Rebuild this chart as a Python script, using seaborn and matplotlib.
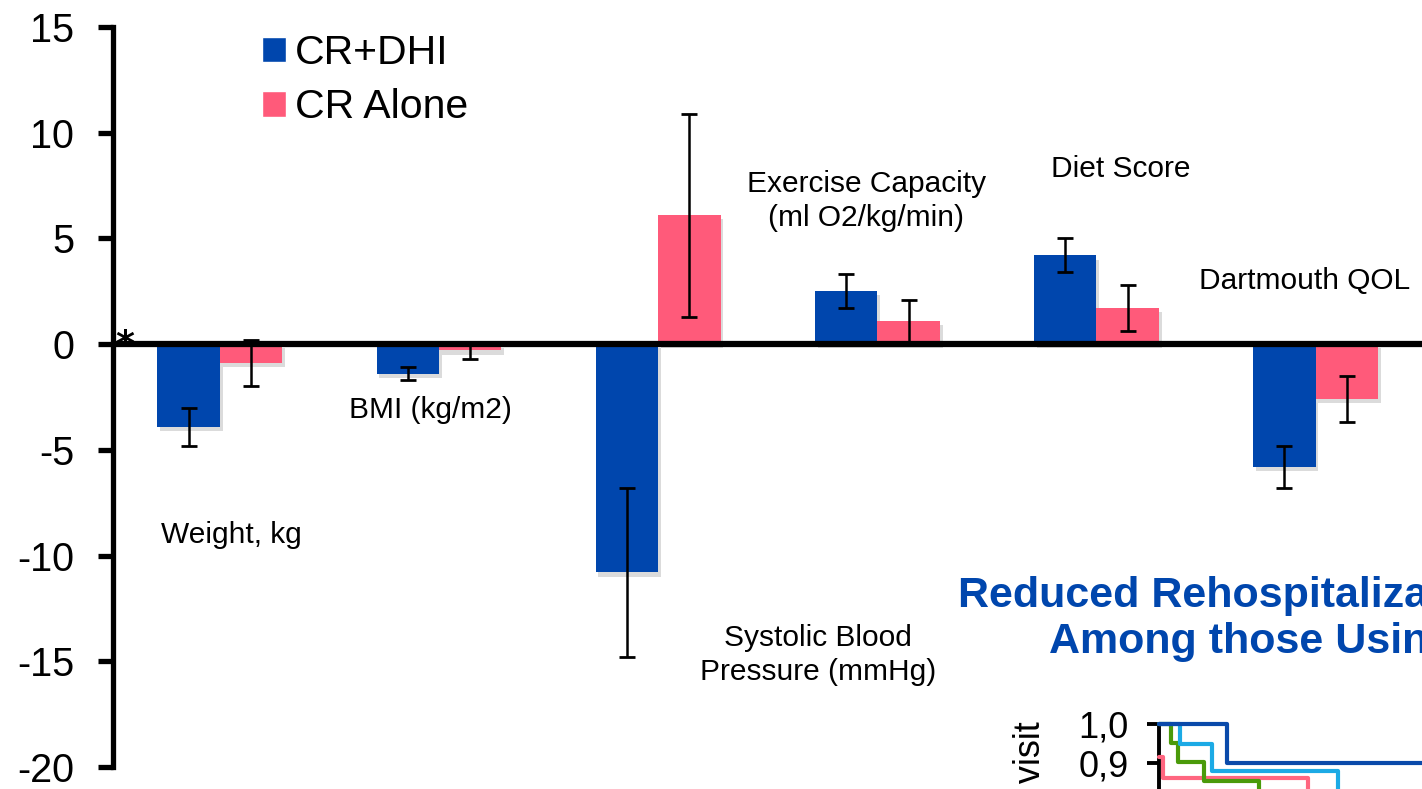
import numpy as np
import pandas as pd
import matplotlib
matplotlib.use("Agg")
import matplotlib.pyplot as plt
import matplotlib.patheffects as pe
import seaborn as sns

# outcome measures (change from baseline)
categories = ["Weight, kg", "BMI (kg/m2)", "Systolic Blood\nPressure (mmHg)",
              "Exercise Capacity\n(ml O2/kg/min)", "Diet Score", "Dartmouth QOL"]
groups = ["CR+DHI", "CR Alone"]
dhi_vals = [-3.9, -1.4, -10.8, 2.5, 4.2, -5.8]
dhi_err = [0.9, 0.3, 4.0, 0.8, 0.8, 1.0]
alone_vals = [-0.9, -0.3, 6.1, 1.1, 1.7, -2.6]
alone_err = [1.1, 0.4, 4.8, 1.0, 1.1, 1.1]
yticks = [-20, -15, -10, -5, 0, 5, 10, 15]

# inset: rehospitalization-free curves (steps), x in months
km_times = {
    "dark": [0, 6.8, 60],
    "light": [0, 2.1, 5.3, 17.9, 60],
    "green": [0, 1.2, 1.9, 4.5, 10.0, 60],
    "pink": [0, 0.4, 14.9, 60],
}
km_surv = {
    "dark": [1.0, 0.90, 0.90],
    "light": [1.0, 0.949, 0.88, 0.80, 0.80],
    "green": [1.0, 0.951, 0.903, 0.854, 0.78, 0.78],
    "pink": [0.915, 0.862, 0.79, 0.79],
}
inset_ticks = [0.8, 0.9, 1.0]
inset_ticklabels = ["0,8", "0,9", "1,0"]

BLUE = "#0046AD"
PINK = "#FF5A7A"
km_colors = {"dark": "#0A4AAA", "light": "#1CAAE5", "green": "#4A9A0A", "pink": "#FF6680"}

sns.set_theme(style="white")
plt.rcParams["font.family"] = ["Liberation Sans", "DejaVu Sans"]
plt.rcParams["text.color"] = "black"
plt.rcParams["ytick.color"] = "black"
plt.rcParams["ytick.labelcolor"] = "black"
plt.rcParams["axes.unicode_minus"] = False

W, H = 1422, 789
fig = plt.figure(figsize=(W / 100, H / 100), dpi=100)

# main axes placed in pixel terms
ax_left, ax_right = 113, 1447
ax_top, ax_bottom = 27, 767
ax = fig.add_axes([ax_left / W, 1 - ax_bottom / H, (ax_right - ax_left) / W, (ax_bottom - ax_top) / H])

df = pd.DataFrame({
    "category": categories * 2,
    "group": [groups[0]] * len(categories) + [groups[1]] * len(categories),
    "value": dhi_vals + alone_vals,
})
sns.barplot(data=df, x="category", y="value", hue="group", order=categories,
            hue_order=groups, palette={groups[0]: BLUE, groups[1]: PINK},
            width=0.57, gap=0, errorbar=None, saturation=1, ax=ax)

shadow = [pe.SimplePatchShadow(offset=(2, -3), shadow_rgbFace="#888888", alpha=0.3), pe.Normal()]
for cont, errs in zip(ax.containers, [dhi_err, alone_err]):
    xs = [b.get_x() + b.get_width() / 2 for b in cont]
    for b in cont:
        b.set_path_effects(shadow)
        b.set_edgecolor("none")
    vals = [b.get_height() + b.get_y() for b in cont]
    ax.errorbar(xs, vals, yerr=errs, fmt="none", ecolor="black", elinewidth=1.8,
                capsize=6, capthick=2, zorder=5)

ax.axhline(0, color="black", lw=4.5, zorder=4)
ax.set_xlim(-0.488, 5.6)
ax.set_ylim(-20, 15)
ax.set_yticks(yticks)
ax.set_xticks([])
ax.set_xlabel("")
ax.set_ylabel("")
for s in ["top", "right", "bottom"]:
    ax.spines[s].set_visible(False)
ax.spines["left"].set_linewidth(3.8)
ax.spines["left"].set_color("black")
ax.tick_params(axis="y", direction="out", length=11, width=3.8, color="black",
               labelsize=28.5, pad=17, left=True)

ax.text(-0.433, -0.05, "*", fontsize=26, fontweight="bold", ha="center", va="center",
        family="DejaVu Sans")

# category annotations
label_xy = [(0.05, -9.05), (0.96, -3.13), (2.73, -14.7), (2.95, 6.78), (4.11, 8.29), (4.95, 2.98)]
for lab, (x, y) in zip(categories, label_xy):
    ax.text(x, y, lab, fontsize=21.5, ha="center", va="center", linespacing=1.25)

# legend
leg = ax.legend(loc="upper left", bbox_to_anchor=(262 / W, 1 - 34 / H),
                bbox_transform=fig.transFigure, frameon=False, fontsize=29.5,
                handlelength=0.58, handleheight=0.58, handletextpad=0.22,
                labelspacing=0.4, borderpad=0, borderaxespad=0)

# title of the (cropped) second panel
TITLE_BLUE = "#0046AD"
fig.text(958 / W, 1 - 607 / H, "Reduced Rehospitalizations", fontsize=31,
         fontweight="bold", color=TITLE_BLUE, ha="left", va="baseline")
fig.text(1049 / W, 1 - 653 / H, "Among those Using DHI", fontsize=31,
         fontweight="bold", color=TITLE_BLUE, ha="left", va="baseline")

# inset Kaplan-Meier style panel, cut off by the figure edge
in_left, in_right = 1159, 1759
y_hi, y_lo = 724, 919  # pixel rows for 1.0 and 0.5
ax2 = fig.add_axes([in_left / W, 1 - y_lo / H, (in_right - in_left) / W, (y_lo - y_hi) / H])
for key in ["pink", "green", "light", "dark"]:
    ax2.step(km_times[key], km_surv[key], where="post", color=km_colors[key],
             lw=3, clip_on=False, zorder=3)
ax2.set_xlim(0, 60)
ax2.set_ylim(0.5, 1.0)
ax2.set_yticks(inset_ticks)
ax2.set_yticklabels(inset_ticklabels)
ax2.set_xticks([])
for s in ["top", "right", "bottom"]:
    ax2.spines[s].set_visible(False)
ax2.spines["left"].set_linewidth(2.8)
ax2.spines["left"].set_color("black")
ax2.tick_params(axis="y", direction="out", length=9, width=2.8, labelsize=26, pad=13, left=True)
ax2.patch.set_alpha(0)
fig.text(1031 / W, 1 - 721 / H, "Free from hospital visit", rotation=90, fontsize=26,
         ha="center", va="top")

fig.savefig("out.png", dpi=100)
